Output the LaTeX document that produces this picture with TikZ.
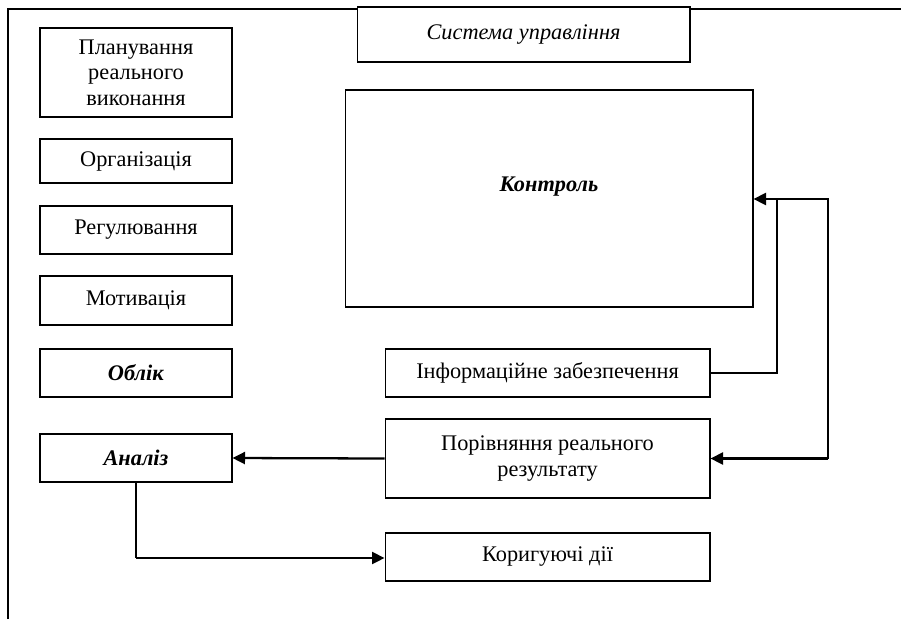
\documentclass[tikz,border=0pt]{standalone}
\usepackage{fontspec}
\setmainfont{Liberation Serif}
\usetikzlibrary{arrows.meta}
\tikzset{
	box/.style={draw, line width=0.6pt, align=center, inner sep=2pt, fill=white, font=\fontsize{12.7}{14.4}\selectfont},
	link/.style={line width=0.6pt},
	feed/.style={line width=1.3pt, -{Triangle[length=2.5mm,width=2.4mm]}}
}
\begin{document}
\begin{tikzpicture}[x=0.02cm,y=-0.02cm]
				\useasboundingbox (0,0) rectangle (901,619);
				\draw[link] (8,619) -- (8,9) -- (901,9);
				\node[box, minimum width=6.66cm, minimum height=1.1cm] (sys) at (523.5,34.5) {\textit{Система управління}};
				\node[box, minimum width=3.84cm, minimum height=1.78cm] (plan) at (136,72.5) {Планування\\реального\\виконання};
				\node[box, minimum width=3.84cm, minimum height=0.88cm] (org) at (136,161) {Організація};
				\node[box, minimum width=3.84cm, minimum height=0.96cm] (reg) at (136,230) {Регулювання};
				\node[box, minimum width=3.84cm, minimum height=0.98cm] (mot) at (136,300.5) {Мотивація};
				\node[box, minimum width=3.84cm, minimum height=0.96cm] (obl) at (136,373) {\textbf{\textit{Облік}}};
				\node[box, minimum width=3.84cm, minimum height=0.96cm] (anl) at (136,458) {\textbf{\textit{Аналіз}}};
				\node[box, minimum width=8.16cm, minimum height=4.34cm] (kon) at (549,198.5) {\textbf{\textit{Контроль}}\\[0.06cm]};
				\node[box, minimum width=6.5cm, minimum height=0.96cm] (inf) at (547.5,373) {Інформаційне забезпечення};
				\node[box, minimum width=6.5cm, minimum height=1.58cm] (por) at (547.5,458.5) {Порівняння реального\\результату};
				\node[box, minimum width=6.5cm, minimum height=0.96cm] (kor) at (547.5,557) {Коригуючі дії};
				\coordinate (j1) at (777,199);
				\coordinate (j2) at (828,199);
				\coordinate (j3) at (828,458.5);
				\coordinate (j4) at (136,558);
				\draw[link] (inf.east) -| (j1) -- (j2) -- (j3);
				\draw[feed] (j1) -- (j1 -| kon.east);
				\draw[feed] (j3) -- (por.east);
				\draw[feed] (por.west) -- (anl.east);
				\draw[link] (anl.south) -- (j4);
				\draw[feed] (j4) -- (j4 -| kor.west);
			\end{tikzpicture}
\end{document}
